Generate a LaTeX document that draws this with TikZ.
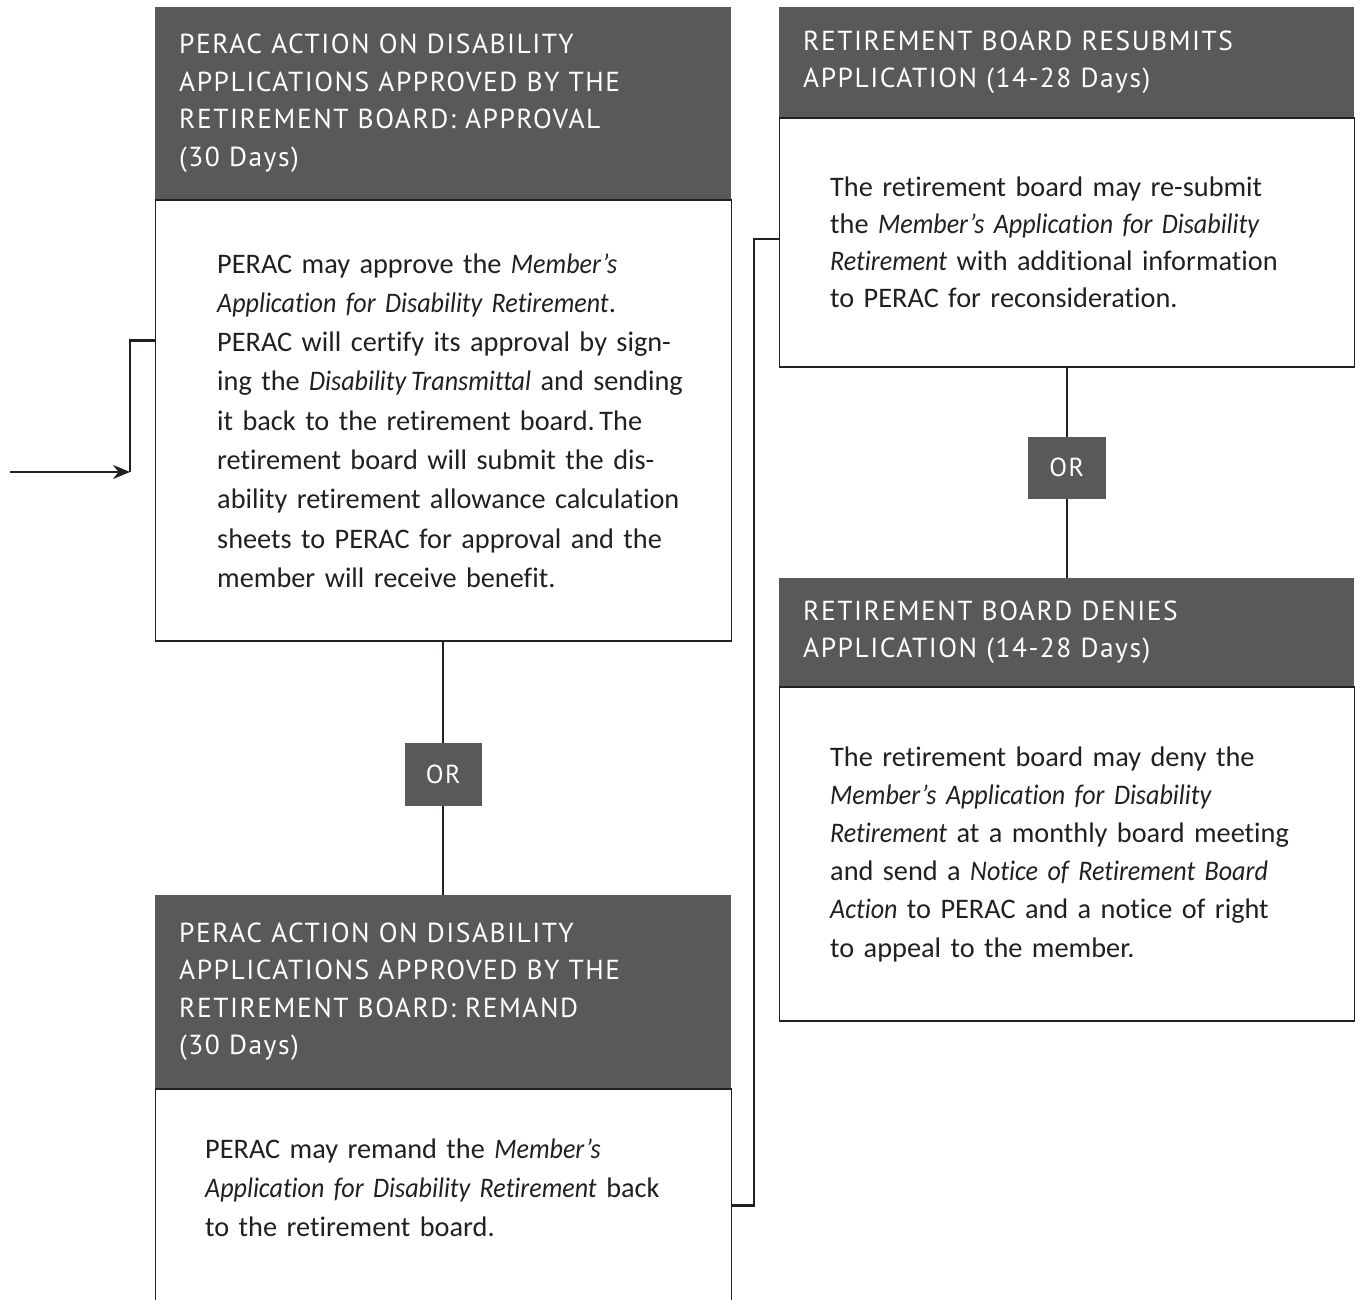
\documentclass[tikz,border=0pt]{standalone}
\usepackage{fontspec}
\setmainfont{Carlito}[Ligatures={TeX,NoCommon},
   ItalicFeatures={FakeStretch=0.92}]
\newfontfamily\headfont{PT Sans}[LetterSpace=5.5]
\usetikzlibrary{positioning,arrows.meta}

\definecolor{headgray}{HTML}{58595B}
\definecolor{linegray}{HTML}{231F20}

\tikzset{
   head/.style={fill=headgray, text=white, anchor=north west,
      minimum width=576pt, text width=528pt, inner xsep=24pt, inner ysep=0pt,
      align=left, font=\headfont\fontsize{27.5}{37.5}\selectfont},
   body/.style={draw=linegray, line width=1.2pt, fill=white, text=linegray,
      text width=576pt, inner xsep=0pt, inner ysep=0pt, align=left,
      font=\fontsize{28.3}{#1}\selectfont},
   orbox/.style={fill=headgray, text=white, minimum width=77pt,
      minimum height=63pt, inner sep=0pt, font=\headfont\fontsize{26}{30}\selectfont},
   conn/.style={draw=linegray, line width=2.2pt}
}

\begin{document}
\begin{tikzpicture}[x=1pt,y=-1pt]
   \useasboundingbox (0,0) rectangle (1361,1300);
   \clip (0,0) rectangle (1361,1300);

   % left column
   \node[head, minimum height=192pt] (Ahead) at (155,7)
      {PERAC ACTION ON DISABILITY\\ APPLICATIONS APPROVED BY THE\\
       RETIREMENT BOARD: APPROVAL\\ (30 Days)};
   \node[body=39.3pt, below=0pt of Ahead, minimum height=441pt] (Abody)
      {\leftskip=62pt\relax PERAC may approve the \textit{Member’s}\\
       \textit{Application for Disability Retirement}.\\
       PERAC will certify its approval by sign-\\
       ing the \textit{Disability\,Transmittal} and sending\\
       it back to the retirement board.\,The\\
       retirement board will submit the dis-\\
       ability retirement allowance calculation\\
       sheets to PERAC for approval and the\\
       member will receive benefit.\par};
   \node[orbox, below=101pt of Abody] (or1) {OR};
   \node[head, below=89pt of or1, minimum height=193pt] (Bhead)
      {PERAC ACTION ON DISABILITY\\ APPLICATIONS APPROVED BY THE\\
       RETIREMENT BOARD: REMAND\\ (30 Days)};
   \node[body=39pt, below=0pt of Bhead, minimum height=300pt,
      text depth=180pt] (Bbody)
      {\leftskip=50pt\relax PERAC may remand the \textit{Member’s}\\
       \textit{Application for Disability Retirement} back\\
       to the retirement board.\par};

   % right column
   \node[head, minimum width=575pt, text width=527pt, inner xsep=23pt,
      minimum height=110pt] (Chead) at (779,7)
      {RETIREMENT BOARD RESUBMITS\\ APPLICATION (14-28 Days)};
   \node[body=37pt, text width=575pt, below=0pt of Chead,
      minimum height=249pt] (Cbody)
      {\leftskip=51pt\relax The retirement board may re-submit\\
       the \textit{Member’s Application for Disability}\\
       \textit{Retirement} with additional information\\
       to PERAC for reconsideration.\par};
   \node[orbox, minimum width=78pt, minimum height=62pt,
      below=69pt of Cbody] (or2) {OR};
   \node[head, minimum width=575pt, text width=527pt, inner xsep=24pt,
      minimum height=108pt, below=79pt of or2] (Dhead)
      {RETIREMENT BOARD DENIES\\ APPLICATION (14-28 Days)};
   \node[body=38.2pt, text width=575pt, below=0pt of Dhead,
      minimum height=334pt] (Dbody)
      {\leftskip=51pt\relax The retirement board may deny the\\
       \textit{Member’s Application for Disability}\\
       \textit{Retirement} at a monthly board meeting\\
       and send a \textit{Notice of Retirement Board}\\
       \textit{Action} to PERAC and a notice of right\\
       to appeal to the member.\par};

   % connectors
   \coordinate (start) at (10,472);
   \coordinate (bend) at (130,472);
   \draw[conn] (bend) |- ([yshift=-141pt]Abody.north west);
   \draw[conn,-{Stealth[length=17pt,width=14pt]}] (start) -- (bend);
   \draw[conn] (Abody.south) -- (or1.north);
   \draw[conn] (or1.south) -- (Bhead.north);
   \draw[conn] (Cbody.south) -- (or2.north);
   \draw[conn] (or2.south) -- (Dhead.north);
   \draw[conn] ([yshift=-117pt]Bbody.north east) -- ++(22,0)
      |- ([yshift=-122pt]Cbody.north west);
\end{tikzpicture}
\end{document}
